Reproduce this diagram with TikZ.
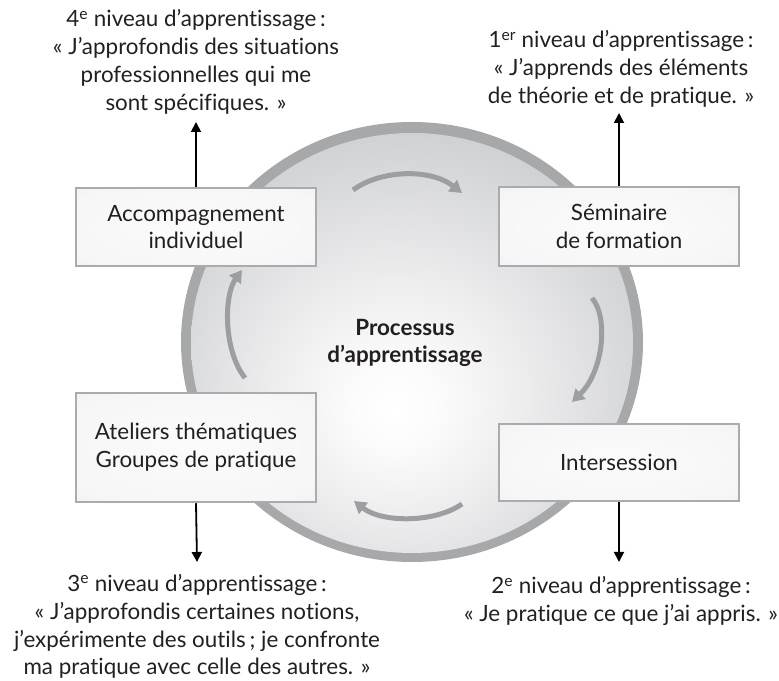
\documentclass[tikz,border=0pt]{standalone}
\usepackage{fontspec}
\setmainfont{Lato}[Ligatures=NoCommon]
\usetikzlibrary{arrows.meta}
\definecolor{ringc}{HTML}{A7A8AA}
\definecolor{arcc}{HTML}{9C9EA1}
\definecolor{boxline}{HTML}{A9ABAE}
\definecolor{txt}{HTML}{231F20}
\pgfdeclareradialshading{discsh}{\pgfpoint{-2bp}{-8bp}}{rgb(0bp)=(1,1,1); rgb(5bp)=(0.985,0.985,0.985); rgb(14bp)=(0.93,0.93,0.935); rgb(30bp)=(0.815,0.82,0.827); rgb(42bp)=(0.75,0.755,0.765); rgb(50bp)=(0.72,0.725,0.735); rgb(80bp)=(0.72,0.725,0.735)}
\pgfdeclareradialshading{boxsh}{\pgfpointorigin}{rgb(0bp)=(0.985,0.985,0.985); rgb(30bp)=(0.965,0.965,0.97); rgb(48bp)=(0.91,0.912,0.918); rgb(70bp)=(0.89,0.892,0.898)}
\tikzset{
  txtfont/.style={font=\fontsize{22.4}{27.8}\selectfont, text=txt, align=center, inner sep=0pt},
  boxst/.style={txtfont, draw=boxline, line width=2.5pt, shading=boxsh, minimum width=240pt},
  arcst/.style={draw=arcc, line width=5pt, -{Triangle[length=12pt,width=14pt]}},
  vst/.style={draw=black, line width=1.8pt, -{Triangle[length=10pt,width=10pt]}}
}
\begin{document}
\begin{tikzpicture}[x=1pt,y=1pt]
\useasboundingbox (0,0) rectangle (779,680);
% disc
\coordinate (cc) at (412,338);
\fill[ringc] (cc) ellipse[x radius=231, y radius=220];
\shade[shading=discsh] (412,337) ellipse[x radius=221, y radius=210];
% circular arrows
\coordinate (a1s) at (353,490); \coordinate (a1e) at (462,487);
\coordinate (a2s) at (592,382); \coordinate (a2e) at (572,278);
\coordinate (a3s) at (462,176); \coordinate (a3e) at (354,179);
\coordinate (a4s) at (245,302); \coordinate (a4e) at (242,410);
\draw[arcst] (a1s) .. controls (380,510) and (430,512) .. (a1e);
\draw[arcst] (a2s) .. controls (609,362) and (603,308) .. (a2e);
\draw[arcst] (a3s) .. controls (435,157) and (382,157) .. (a3e);
\draw[arcst] (a4s) .. controls (223,330) and (224,385) .. (a4e);
% center text
\node[txtfont, font=\fontsize{22.4}{27.8}\selectfont\bfseries] (proc) at (405,337) {Processus\\d’apprentissage};
% boxes
\node[boxst, minimum height=78pt] (acc) at (196,453) {Accompagnement\\individuel};
\node[boxst, minimum height=79pt] (sem) at (619,453.5) {Séminaire\\de formation};
\node[boxst, minimum height=109pt] (ate) at (196,232.5) {Ateliers thématiques\\Groupes de pratique};
\node[boxst, minimum height=77pt] (int) at (619,217.5) {Intersession};
% level texts
\node[txtfont] (t4) at (196,618) {4\textsuperscript{e} niveau d’apprentissage\,:\\« J’approfondis des situations\\professionnelles qui me\\sont spécifiques. »};
\node[txtfont] (t1) at (621,611) {1\textsuperscript{er} niveau d’apprentissage\,:\\« J’apprends des éléments\\de théorie et de pratique. »};
\node[txtfont] (t3) at (197,53.5) {3\textsuperscript{e} niveau d’apprentissage\,:\\« J’approfondis certaines notions,\\j’expérimente des outils\,; je confronte\\ma pratique avec celle des autres. »};
\node[txtfont] (t2) at (621,79) {2\textsuperscript{e} niveau d’apprentissage\,:\\« Je pratique ce que j’ai appris. »};
% arrow tips
\coordinate (p4) at (196,558);
\coordinate (p1) at (619,567);
\coordinate (p3) at (197,118);
\coordinate (p2) at (619,118);
\draw[vst] (acc.north) -- (p4);
\draw[vst] (sem.north) -- (p1);
\draw[vst] (ate.south) -- (p3);
\draw[vst] (int.south) -- (p2);
\end{tikzpicture}
\end{document}
